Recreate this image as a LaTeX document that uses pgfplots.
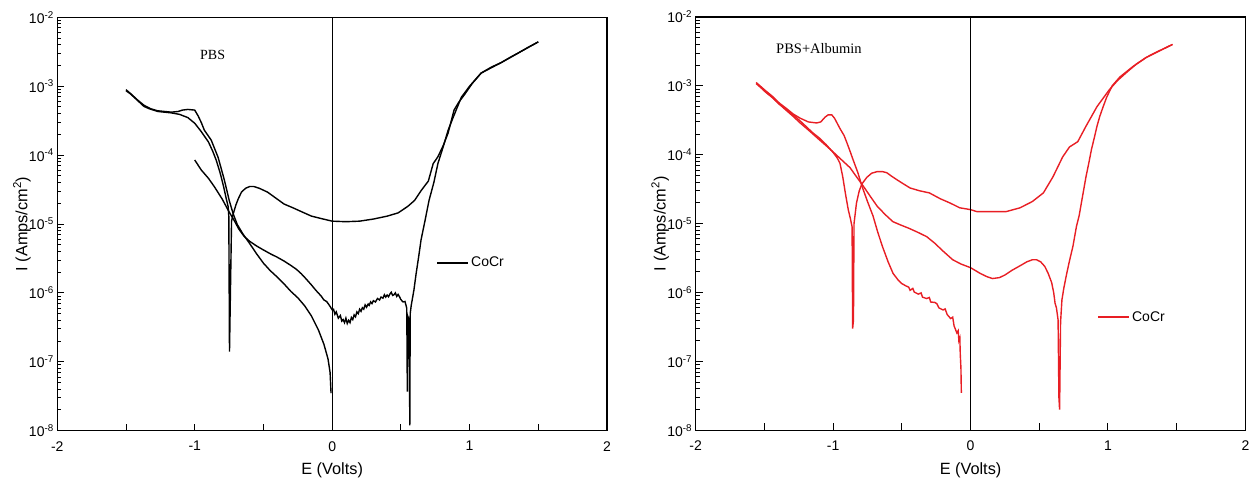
\documentclass[border=0pt]{standalone}
\usepackage{fontspec}
\setmainfont{Liberation Sans}
\newfontfamily\serifpbs{Liberation Serif}
\usepackage{pgfplots}
\pgfplotsset{compat=1.18}
\definecolor{curvered}{RGB}{232,30,36}
\pgfplotsset{
  legend image code/.code={\draw[#1] (0pt,0pt) -- (26pt,0pt); \path (0pt,0pt) -- (31pt,0pt);},
}
\begin{document}
\begin{tikzpicture}
\useasboundingbox (0,0) rectangle (1253pt,481pt);
% ---------------- Left: PBS ----------------
\begin{axis}[
    at={(57.3pt,50.3pt)}, anchor=south west,
    scale only axis, width=549.7pt, height=413.4pt,
    ymode=log, xmin=-2, xmax=2, ymin=1e-8, ymax=1e-2,
    axis line style={line width=1.1pt},
    tick style={line width=1pt, black},
    tick align=inside, xtick pos=bottom, ytick pos=left,
    major tick length=7pt, minor tick length=4pt,
    xtick={-2,-1.5,-1,-0.5,0,0.5,1,1.5,2},
    xticklabels={-2,,-1,,0,,1,,2},
    ytick={1e-8,1e-7,1e-6,1e-5,1e-4,1e-3,1e-2},
    yticklabels={10\textsuperscript{-8},10\textsuperscript{-7},10\textsuperscript{-6},10\textsuperscript{-5},10\textsuperscript{-4},10\textsuperscript{-3},10\textsuperscript{-2}},
    minor ytick={2e-8,3e-8,4e-8,5e-8,6e-8,7e-8,8e-8,9e-8,2e-7,3e-7,4e-7,5e-7,6e-7,7e-7,8e-7,9e-7,2e-6,3e-6,4e-6,5e-6,6e-6,7e-6,8e-6,9e-6,2e-5,3e-5,4e-5,5e-5,6e-5,7e-5,8e-5,9e-5,2e-4,3e-4,4e-4,5e-4,6e-4,7e-4,8e-4,9e-4,2e-3,3e-3,4e-3,5e-3,6e-3,7e-3,8e-3,9e-3},
    ticklabel style={font=\fontsize{14}{16}\selectfont},
    xticklabel style={yshift=-7pt},
    label style={font=\fontsize{16.3}{18}\selectfont},
    xlabel={E (Volts)},
    ylabel={I (Amps/cm\textsuperscript{2})},
    xlabel style={at={(axis description cs:0.5,0)}, anchor=base, yshift=-44pt},
    ylabel style={at={(axis description cs:-0.0546,0.5)}, anchor=base},
    legend style={draw=none, fill=none, inner sep=0pt, font=\fontsize{14}{16}\selectfont, at={(0.69,0.406)}, anchor=west},
    legend cell align=left,
  ]
\addplot[black, line width=1.4pt] coordinates {
(-1.50,8.6e-4) (-1.47,7.8e-4) (-1.43,6.6e-4) (-1.40,5.8e-4) (-1.37,5.1e-4) (-1.33,4.7e-4) (-1.30,4.5e-4) (-1.27,4.3e-4) (-1.22,4.2e-4) (-1.17,4.1e-4) (-1.11,3.9e-4) (-1.05,3.5e-4) (-1.00,2.9e-4) (-0.953,2.2e-4) (-0.90,1.55e-4) (-0.87,1.15e-4) (-0.844,8.5e-5) (-0.815,5.5e-5) (-0.79,3.5e-5) (-0.77,2.3e-5) (-0.757,1.8e-5) (-0.752,1.3e-5) (-0.747,1.4e-7) (-0.732,1.1e-5) (-0.72,1.4e-5) (-0.70,1.9e-5) (-0.684,2.3e-5) (-0.66,2.9e-5) (-0.63,3.3e-5) (-0.60,3.5e-5) (-0.57,3.5e-5) (-0.53,3.3e-5) (-0.47,2.9e-5) (-0.40,2.3e-5) (-0.35,1.95e-5) (-0.28,1.7e-5) (-0.22,1.5e-5) (-0.15,1.3e-5) (-0.08,1.2e-5) (0,1.1e-5) (0.10,1.08e-5) (0.20,1.1e-5) (0.30,1.18e-5) (0.40,1.3e-5) (0.48,1.45e-5) (0.55,1.8e-5) (0.60,2.2e-5) (0.65,3.1e-5) (0.70,4.2e-5) (0.735,7.5e-5) (0.77,9.5e-5) (0.81,1.4e-4) (0.844,2.1e-4) (0.887,4.5e-4) (0.92,5.8e-4) (0.96,7.4e-4) (1.02,1.1e-3) (1.084,1.55e-3) (1.16,1.9e-3) (1.23,2.2e-3) (1.30,2.65e-3) (1.35,3.0e-3) (1.42,3.6e-3) (1.50,4.4e-3)
};
\addlegendentry{CoCr}
\addplot[black, line width=1.4pt, forget plot] coordinates {
(-1.50,8.9e-4) (-1.46,7.6e-4) (-1.42,6.4e-4) (-1.37,5.3e-4) (-1.32,4.7e-4) (-1.27,4.4e-4) (-1.22,4.3e-4) (-1.17,4.2e-4) (-1.12,4.3e-4) (-1.09,4.5e-4) (-1.05,4.6e-4) (-1.0,4.5e-4) (-0.975,3.7e-4) (-0.95,2.9e-4) (-0.93,2.3e-4) (-0.88,1.65e-4) (-0.83,9.3e-5) (-0.785,4.4e-5) (-0.749,2.2e-5) (-0.72,1.4e-5) (-0.69,9.8e-6) (-0.65,7.2e-6) (-0.6,5.2e-6) (-0.55,3.7e-6) (-0.5,2.7e-6) (-0.45,2.1e-6) (-0.4,1.7e-6) (-0.35,1.35e-6) (-0.3,1.05e-6) (-0.25,8.5e-7) (-0.2,6.5e-7) (-0.15,4.6e-7) (-0.1,2.9e-7) (-0.06,1.8e-7) (-0.03,1.1e-7) (-0.015,7e-8) (-0.008,3.5e-8)
};
\addplot[black, line width=1.4pt, forget plot] coordinates {
(1.50,4.4e-3) (1.42,3.6e-3) (1.35,3.0e-3) (1.23,2.2e-3) (1.084,1.55e-3) (1.0,1.0e-3) (0.94,6.9e-4) (0.88,3.5e-4) (0.844,2.3e-4) (0.807,1.3e-4) (0.77,7.6e-5) (0.74,4e-5) (0.705,2.2e-5) (0.675,1.1e-5) (0.647,5.9e-6) (0.63,3.4e-6) (0.611,1.9e-6) (0.595,1.1e-6) (0.575,6.5e-7) (0.568,5e-7) (0.565,1.2e-8) (0.561,4e-7) (0.552,4.5e-7) (0.547,3.7e-8) (0.543,6e-7) (0.53,7.5e-7) (0.516,7.4e-7) (0.50,8e-7) (0.49,8.8e-7) (0.48,9.5e-7) (0.47,8.9e-7) (0.46,1.0e-6) (0.45,9.4e-7) (0.44,9.2e-7) (0.43,1.02e-6) (0.42,9.6e-7) (0.41,8.8e-7) (0.40,9.3e-7) (0.39,8.7e-7) (0.38,9.4e-7) (0.37,8.4e-7) (0.356,8.7e-7) (0.345,7.9e-7) (0.33,8.3e-7) (0.315,7.4e-7) (0.30,7.7e-7) (0.29,7.0e-7) (0.28,7.4e-7) (0.27,6.6e-7) (0.262,6.9e-7) (0.25,6.2e-7) (0.24,6.7e-7) (0.23,5.8e-7) (0.22,6.1e-7) (0.21,5.4e-7) (0.20,5.8e-7) (0.19,5.0e-7) (0.18,5.3e-7) (0.17,4.5e-7) (0.16,4.8e-7) (0.15,4.1e-7) (0.14,4.4e-7) (0.13,3.7e-7) (0.12,4.0e-7) (0.11,3.6e-7) (0.10,4.3e-7) (0.09,3.7e-7) (0.08,4.1e-7) (0.07,3.9e-7) (0.06,4.7e-7) (0.045,4.3e-7) (0.03,5.3e-7) (0.02,4.9e-7) (0.01,5.8e-7) (0,5.7e-7) (-0.02,6.6e-7) (-0.04,7.5e-7) (-0.06,7.9e-7) (-0.08,9e-7) (-0.12,1.1e-6) (-0.15,1.3e-6) (-0.19,1.6e-6) (-0.225,1.9e-6) (-0.26,2.2e-6) (-0.3,2.5e-6) (-0.35,2.9e-6) (-0.4,3.3e-6) (-0.45,3.7e-6) (-0.5,4.2e-6) (-0.55,4.8e-6) (-0.6,5.6e-6) (-0.64,6.6e-6) (-0.68,8.5e-6) (-0.71,1.1e-5) (-0.75,1.5e-5) (-0.8,2.3e-5) (-0.858,3.5e-5) (-0.9,4.6e-5) (-0.953,6.1e-5) (-1.0,8.5e-5)
};
\addplot[black, line width=1pt, forget plot] coordinates {(0,1e-8) (0,1e-2)};
\node[font=\serifpbs\fontsize{14}{16}\selectfont] at (axis cs:-0.87,2.87e-3) {PBS};
\end{axis}
% ---------------- Right: PBS+Albumin ----------------
\begin{axis}[
    at={(695.7pt,50.6pt)}, anchor=south west,
    scale only axis, width=549.7pt, height=413.4pt,
    ymode=log, xmin=-2, xmax=2, ymin=1e-8, ymax=1e-2,
    axis line style={line width=1.1pt},
    tick style={line width=1pt, black},
    tick align=inside, xtick pos=bottom, ytick pos=left,
    major tick length=7pt, minor tick length=4pt,
    xtick={-2,-1.5,-1,-0.5,0,0.5,1,1.5,2},
    xticklabels={-2,,-1,,0,,1,,2},
    ytick={1e-8,1e-7,1e-6,1e-5,1e-4,1e-3,1e-2},
    yticklabels={10\textsuperscript{-8},10\textsuperscript{-7},10\textsuperscript{-6},10\textsuperscript{-5},10\textsuperscript{-4},10\textsuperscript{-3},10\textsuperscript{-2}},
    minor ytick={2e-8,3e-8,4e-8,5e-8,6e-8,7e-8,8e-8,9e-8,2e-7,3e-7,4e-7,5e-7,6e-7,7e-7,8e-7,9e-7,2e-6,3e-6,4e-6,5e-6,6e-6,7e-6,8e-6,9e-6,2e-5,3e-5,4e-5,5e-5,6e-5,7e-5,8e-5,9e-5,2e-4,3e-4,4e-4,5e-4,6e-4,7e-4,8e-4,9e-4,2e-3,3e-3,4e-3,5e-3,6e-3,7e-3,8e-3,9e-3},
    ticklabel style={font=\fontsize{14}{16}\selectfont},
    xticklabel style={yshift=-7pt},
    label style={font=\fontsize{16.3}{18}\selectfont},
    xlabel={E (Volts)},
    ylabel={I (Amps/cm\textsuperscript{2})},
    xlabel style={at={(axis description cs:0.5,0)}, anchor=base, yshift=-44pt},
    ylabel style={at={(axis description cs:-0.0546,0.5)}, anchor=base},
    legend style={draw=none, fill=none, inner sep=0pt, font=\fontsize{14}{16}\selectfont, at={(0.731,0.274)}, anchor=west},
    legend cell align=left,
  ]
\addplot[curvered, line width=1.4pt] coordinates {
(-1.56,1.08e-3) (-1.50,8.5e-4) (-1.44,6.8e-4) (-1.39,5.4e-4) (-1.34,4.5e-4) (-1.29,3.8e-4) (-1.24,3.1e-4) (-1.19,2.5e-4) (-1.15,2.1e-4) (-1.10,1.75e-4) (-1.05,1.4e-4) (-1.0,1.08e-4) (-0.97,9e-5) (-0.95,7.5e-5) (-0.93,4.8e-5) (-0.91,2.7e-5) (-0.89,1.6e-5) (-0.875,1.2e-5) (-0.862,9e-6) (-0.858,3e-7) (-0.852,4e-7) (-0.848,1e-5) (-0.83,2e-5) (-0.81,3e-5) (-0.79,3.8e-5) (-0.755,4.7e-5) (-0.72,5.4e-5) (-0.68,5.7e-5) (-0.64,5.7e-5) (-0.61,5.5e-5) (-0.575,4.9e-5) (-0.54,4.4e-5) (-0.49,3.8e-5) (-0.44,3.3e-5) (-0.37,3.0e-5) (-0.3,2.8e-5) (-0.22,2.3e-5) (-0.15,2e-5) (-0.078,1.7e-5) (0,1.6e-5) (0.045,1.5e-5) (0.15,1.5e-5) (0.26,1.5e-5) (0.36,1.7e-5) (0.45,2.1e-5) (0.53,2.8e-5) (0.6,4.8e-5) (0.67,9.3e-5) (0.72,1.3e-4) (0.78,1.55e-4) (0.84,2.6e-4) (0.92,5e-4) (1.01,8.8e-4) (1.07,1.2e-3) (1.14,1.6e-3) (1.21,2.1e-3) (1.28,2.6e-3) (1.37,3.2e-3) (1.47,4.0e-3)
};
\addlegendentry{CoCr}
\addplot[curvered, line width=1.4pt, forget plot] coordinates {
(-1.56,1.12e-3) (-1.50,8.8e-4) (-1.44,7e-4) (-1.39,5.6e-4) (-1.34,4.7e-4) (-1.29,3.9e-4) (-1.24,3.4e-4) (-1.18,3.0e-4) (-1.12,2.9e-4) (-1.09,3.0e-4) (-1.06,3.5e-4) (-1.036,3.8e-4) (-1.01,3.8e-4) (-0.99,3.4e-4) (-0.95,2.4e-4) (-0.92,1.9e-4) (-0.9,1.5e-4) (-0.875,1.1e-4) (-0.855,8.5e-5) (-0.82,5.5e-5) (-0.79,3.5e-5) (-0.75,2.1e-5) (-0.71,1.3e-5) (-0.675,7.5e-6) (-0.64,4.6e-6) (-0.6,2.8e-6) (-0.564,1.9e-6) (-0.53,1.55e-6) (-0.50,1.35e-6) (-0.47,1.25e-6) (-0.45,1.2e-6) (-0.44,1.08e-6) (-0.42,1.15e-6) (-0.41,1.02e-6) (-0.38,9.5e-7) (-0.36,9.9e-7) (-0.35,8.6e-7) (-0.32,8.2e-7) (-0.30,8.5e-7) (-0.29,7.3e-7) (-0.26,7.2e-7) (-0.245,6.9e-7) (-0.23,6.0e-7) (-0.2,5.6e-7) (-0.185,5.8e-7) (-0.17,4.8e-7) (-0.145,4.2e-7) (-0.13,4.4e-7) (-0.12,3.3e-7) (-0.10,2.6e-7) (-0.09,2.8e-7) (-0.085,2e-7) (-0.078,2.2e-7) (-0.075,1.3e-7) (-0.07,8e-8) (-0.067,3.5e-8)
};
\addplot[curvered, line width=1.4pt, forget plot] coordinates {
(1.47,4.0e-3) (1.37,3.2e-3) (1.28,2.6e-3) (1.18,1.9e-3) (1.087,1.35e-3) (1.03,1.0e-3) (0.99,6.8e-4) (0.965,5e-4) (0.94,3.6e-4) (0.92,2.6e-4) (0.9,1.75e-4) (0.88,1.2e-4) (0.86,7.5e-5) (0.84,4.8e-5) (0.81,2.2e-5) (0.79,1.3e-5) (0.77,9e-6) (0.745,4.7e-6) (0.72,2.9e-6) (0.70,1.9e-6) (0.68,1.2e-6) (0.665,7.9e-7) (0.655,3.7e-7) (0.648,2e-8) (0.643,3e-8) (0.637,4e-7) (0.625,6e-7) (0.615,7e-7) (0.605,1.0e-6) (0.59,1.4e-6) (0.565,1.9e-6) (0.54,2.4e-6) (0.51,2.8e-6) (0.48,3.0e-6) (0.45,3.0e-6) (0.41,2.8e-6) (0.36,2.45e-6) (0.3,2.1e-6) (0.25,1.8e-6) (0.21,1.65e-6) (0.16,1.6e-6) (0.12,1.7e-6) (0.07,1.9e-6) (0,2.3e-6) (-0.07,2.6e-6) (-0.13,3.0e-6) (-0.2,4.0e-6) (-0.26,5.2e-6) (-0.32,6.5e-6) (-0.39,7.6e-6) (-0.45,8.6e-6) (-0.51,9.6e-6) (-0.565,1.07e-5) (-0.62,1.35e-5) (-0.68,1.8e-5) (-0.73,2.5e-5) (-0.78,3.5e-5) (-0.83,4.8e-5) (-0.877,6.5e-5) (-0.94,8.5e-5) (-1.0,1.1e-4) (-1.05,1.35e-4) (-1.1,1.65e-4) (-1.17,2.2e-4) (-1.24,2.9e-4) (-1.29,3.6e-4) (-1.34,4.4e-4) (-1.39,5.4e-4) (-1.44,6.7e-4) (-1.5,8.4e-4) (-1.53,9.8e-4)
};
\addplot[black, line width=1pt, forget plot] coordinates {(0,1e-8) (0,1e-2)};
\node[font=\serifpbs\fontsize{14.5}{16}\selectfont] at (axis cs:-1.103,3.47e-3) {PBS+Albumin};
\end{axis}
\end{tikzpicture}
\end{document}
